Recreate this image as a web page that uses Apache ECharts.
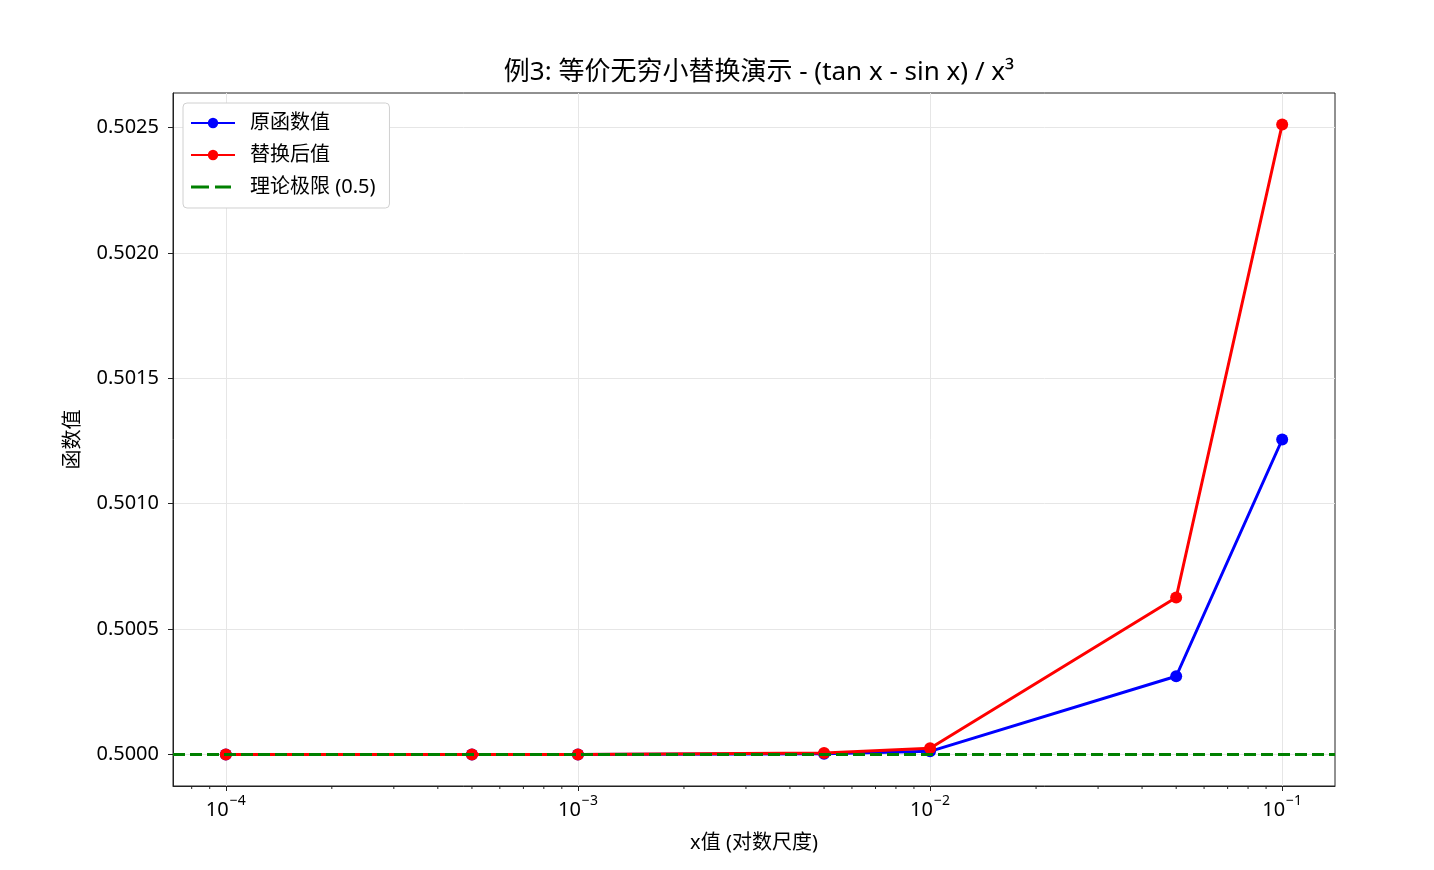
<!DOCTYPE html>
<html>
<head>
<meta charset="utf-8">
<script src="https://cdn.jsdelivr.net/npm/echarts@6/dist/echarts.min.js"></script>
<style>
  html, body { margin: 0; padding: 0; background: #fff; }
  #main { width: 1434px; height: 870px; }
</style>
</head>
<body>
<div id="main"></div>
<script>
// x 取值（对数尺度）
var xValues = [0.0001, 0.0005, 0.001, 0.005, 0.01, 0.05, 0.1];
// 原函数值 (tan x - sin x) / x^3
var originalValues = [0.5000000, 0.5000000, 0.5000001, 0.5000031, 0.5000125, 0.5003120, 0.5012560];
// 替换后值
var replacedValues = [0.5000000, 0.5000001, 0.5000003, 0.5000063, 0.5000250, 0.5006260, 0.5025120];
// 理论极限
var limitValue = 0.5;
var yTicks = [0.5000, 0.5005, 0.5010, 0.5015, 0.5020, 0.5025];
// 对数轴的次刻度
var minorTicks = [
  0.00008, 0.00009,
  0.0002, 0.0003, 0.0004, 0.0005, 0.0006, 0.0007, 0.0008, 0.0009,
  0.002, 0.003, 0.004, 0.005, 0.006, 0.007, 0.008, 0.009,
  0.02, 0.03, 0.04, 0.05, 0.06, 0.07, 0.08, 0.09
];

var font = '"Noto Sans", "Noto Sans CJK SC", sans-serif';
var axisColor = '#222';
var xMin = Math.pow(10, -4.15);
var xMax = Math.pow(10, -0.85);
var yMin = 0.4998744;
var yMax = 0.5026376;

function pairs(ys) {
  return xValues.map(function (x, i) { return [x, ys[i]]; });
}

var myChart = echarts.init(document.getElementById('main'));

var option = {
  animation: false,
  textStyle: { fontFamily: font },
  title: {
    text: '例3: 等价无穷小替换演示 - (tan x - sin x) / x³',
    left: 754,
    top: 55,
    textAlign: 'center',
    textStyle: { fontFamily: font, fontSize: 26, fontWeight: 'normal', color: '#000' }
  },
  legend: {
    orient: 'vertical',
    left: 183,
    top: 103,
    padding: [10, 14, 11, 7],
    itemGap: 12,
    itemWidth: 44,
    itemHeight: 13,
    backgroundColor: '#fff',
    borderColor: '#d0d0d0',
    borderWidth: 1,
    borderRadius: 4,
    textStyle: { fontFamily: font, fontSize: 20, color: '#000', padding: [0, 0, 0, 10] },
    data: [
      '原函数值',
      '替换后值',
      {
        name: '理论极限 (0.5)',
        // 虚线图例
        icon: 'path://M0,0h0.01v0.01h-0.01z M0,13h0.01v0.01h-0.01z M44,0h0.01v0.01h-0.01z M0,5h18v3h-18z M24,5h16v3h-16z'
      }
    ]
  },
  grid: {
    left: 173,
    right: 99,
    top: 93,
    bottom: 84,
    show: true,
    borderColor: axisColor,
    borderWidth: 1,
    containLabel: false
  },
  xAxis: {
    type: 'log',
    logBase: 10,
    min: xMin,
    max: xMax,
    name: 'x值 (对数尺度)',
    nameLocation: 'middle',
    nameGap: 47,
    nameTextStyle: { fontFamily: font, fontSize: 20, color: '#000' },
    axisLine: { lineStyle: { color: axisColor, width: 1 } },
    axisTick: { show: true, length: 5, lineStyle: { color: axisColor } },
    axisLabel: {
      showMinLabel: false,
      showMaxLabel: false,
      margin: 8,
      color: '#000',
      formatter: function (v) {
        var e = Math.round(Math.log10(v));
        if (Math.abs(Math.log10(v) - e) > 1e-6) return '';
        return '{b|10}{s|−' + Math.abs(e) + '}';
      },
      rich: {
        b: { fontFamily: font, fontSize: 20, color: '#000', lineHeight: 26, verticalAlign: 'bottom' },
        s: { fontFamily: font, fontSize: 14, color: '#000', lineHeight: 26, verticalAlign: 'top', padding: [0, 0, 0, 1] }
      }
    },
    splitLine: { show: true, showMinLine: false, showMaxLine: false, lineStyle: { color: '#e6e6e6', width: 1 } }
  },
  yAxis: {
    type: 'value',
    min: yMin,
    max: yMax,
    splitNumber: 5,
    name: '函数值',
    nameLocation: 'middle',
    nameGap: 90,
    nameTextStyle: { fontFamily: font, fontSize: 20, color: '#000' },
    axisLine: { show: true, lineStyle: { color: axisColor, width: 1 } },
    axisTick: { show: true, length: 5, lineStyle: { color: axisColor } },
    axisLabel: {
      showMinLabel: false,
      showMaxLabel: false,
      margin: 14,
      fontFamily: font,
      fontSize: 20,
      color: '#000',
      formatter: function (v) {
        for (var i = 0; i < yTicks.length; i++) {
          if (Math.abs(v - yTicks[i]) < 1e-9) return yTicks[i].toFixed(4);
        }
        return '';
      }
    },
    splitLine: { show: true, showMinLine: false, showMaxLine: false, lineStyle: { color: '#e6e6e6', width: 1 } }
  },
  series: [
    {
      name: '原函数值',
      type: 'line',
      data: pairs(originalValues),
      symbol: 'circle',
      symbolSize: 12,
      lineStyle: { color: '#0000ff', width: 3 },
      itemStyle: { color: '#0000ff' },
      z: 3
    },
    {
      name: '替换后值',
      type: 'line',
      data: pairs(replacedValues),
      symbol: 'circle',
      symbolSize: 12,
      lineStyle: { color: '#ff0000', width: 3 },
      itemStyle: { color: '#ff0000' },
      z: 4
    },
    {
      name: '理论极限 (0.5)',
      type: 'line',
      data: [],
      symbol: 'none',
      lineStyle: { color: '#008000', width: 3, type: [12, 5] },
      itemStyle: { color: '#008000' },
      z: 5,
      markLine: {
        silent: true,
        symbol: ['none', 'none'],
        label: { show: false },
        lineStyle: { color: '#008000', width: 3, type: [12, 5] },
        data: [{ yAxis: limitValue }]
      }
    },
    {
      // x 轴次刻度
      type: 'custom',
      silent: true,
      clip: false,
      data: minorTicks.map(function (v) { return [v]; }),
      encode: { x: 0 },
      renderItem: function (params, api) {
        var p = api.coord([api.value(0), yMin]);
        return {
          type: 'line',
          shape: { x1: p[0], y1: p[1], x2: p[0], y2: p[1] + 3 },
          style: { stroke: axisColor, lineWidth: 1 }
        };
      },
      z: 1
    }
  ]
};

myChart.setOption(option);
</script>
</body>
</html>
